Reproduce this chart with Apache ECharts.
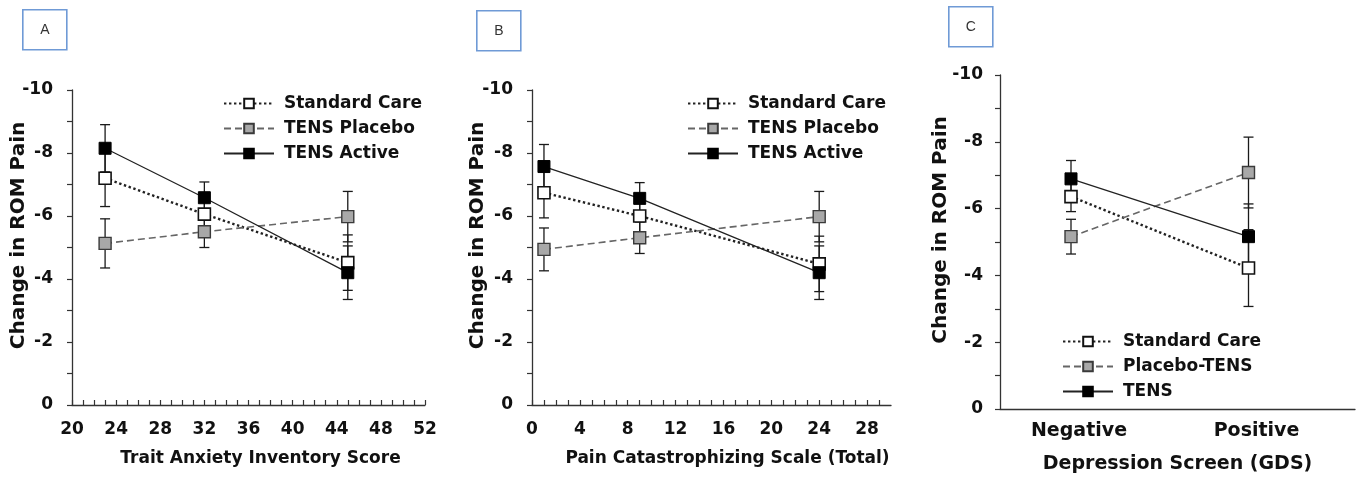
<!DOCTYPE html>
<html>
<head>
<meta charset="utf-8">
<title>Change in ROM Pain by covariate</title>
<script src="https://cdn.jsdelivr.net/npm/echarts@6/dist/echarts.min.js"></script>
<style>
  html, body { margin: 0; padding: 0; background: #fff; }
  #chart { width: 1360px; height: 485px; }
</style>
</head>
<body>
<div id="chart"></div>
<script>
// Panel A: Trait Anxiety Inventory score
const anxietyScore = [23, 32, 45];
const anxietyStandard = [-7.2, -6.06, -4.52];
const anxietyStandardErr = [0.9, 0.5, 0.88];
const anxietyPlacebo = [-5.13, -5.5, -5.98];
const anxietyPlaceboErr = [0.78, 0.5, 0.8];
const anxietyActive = [-8.15, -6.58, -4.2];
const anxietyActiveErr = [0.75, 0.5, 0.85];

// Panel B: Pain Catastrophizing Scale total
const pcsScore = [1, 9, 24];
const pcsStandard = [-6.74, -6.0, -4.48];
const pcsStandardErr = [0.8, 0.5, 0.88];
const pcsPlacebo = [-4.94, -5.31, -5.98];
const pcsPlaceboErr = [0.68, 0.5, 0.8];
const pcsActive = [-7.57, -6.56, -4.2];
const pcsActiveErr = [0.7, 0.5, 0.85];

// Panel C: depression screen (GDS) result
const gdsGroups = ['Negative', 'Positive'];
const gdsStandard = [-6.36, -4.22];
const gdsStandardErr = [0.45, 1.15];
const gdsPlacebo = [-5.16, -7.08];
const gdsPlaceboErr = [0.52, 1.06];
const gdsTens = [-6.89, -5.16];
const gdsTensErr = [0.55, 0.98];

const namesAB = ['Standard Care', 'TENS Placebo', 'TENS Active'];
const namesC = ['Standard Care', 'Placebo-TENS', 'TENS'];

const FONT = 'DejaVu Sans';
const INK = '#111';
const AXIS = '#333';

const styles = {
  standard: {
    lineStyle: { color: '#222', width: 2.4, type: [2.4, 2.6] },
    itemStyle: { color: '#fff', borderColor: '#111', borderWidth: 1.6 }
  },
  placebo: {
    lineStyle: { color: '#666', width: 1.6, type: [7, 4] },
    itemStyle: { color: '#a8a8a8', borderColor: '#3a3a3a', borderWidth: 1.4 }
  },
  active: {
    lineStyle: { color: '#222', width: 1.3, type: 'solid' },
    itemStyle: { color: '#000', borderColor: '#000', borderWidth: 1 }
  }
};

function pairs(xs, ys) { return ys.map((y, i) => [xs[i], y]); }
function triples(xs, ys, es) { return ys.map((y, i) => [xs[i], y, es[i]]); }

function lineSeries(name, idx, xs, ys, style) {
  return {
    type: 'line', name: name,
    xAxisIndex: idx, yAxisIndex: idx,
    data: pairs(xs, ys),
    symbol: 'rect', symbolSize: 12,
    lineStyle: style.lineStyle,
    itemStyle: style.itemStyle,
    z: 3,
    animation: false
  };
}

// vertical error bar with caps at mean ± err
function errorSeries(name, idx, xs, ys, es) {
  return {
    type: 'custom', name: name + ' error',
    xAxisIndex: idx, yAxisIndex: idx,
    data: triples(xs, ys, es),
    z: 2,
    animation: false,
    silent: true,
    renderItem: function (params, api) {
      const x = api.value(0), y = api.value(1), e = api.value(2);
      const hi = api.coord([x, y - e]);
      const lo = api.coord([x, y + e]);
      const cap = 5;
      const st = { stroke: '#1a1a1a', lineWidth: 1.3 };
      return {
        type: 'group',
        children: [
          { type: 'line', shape: { x1: hi[0], y1: hi[1], x2: lo[0], y2: lo[1] }, style: st },
          { type: 'line', shape: { x1: hi[0] - cap, y1: hi[1], x2: hi[0] + cap, y2: hi[1] }, style: st },
          { type: 'line', shape: { x1: lo[0] - cap, y1: lo[1], x2: lo[0] + cap, y2: lo[1] }, style: st }
        ]
      };
    }
  };
}

function yAxisDef(idx, gap, labelMargin) {
  return {
    type: 'value', gridIndex: idx,
    min: -10, max: 0, interval: 1, inverse: true,
    name: 'Change in ROM Pain',
    nameLocation: 'middle', nameRotate: 90, nameGap: gap,
    nameMoveOverlap: false,
    nameTextStyle: { fontFamily: FONT, fontWeight: 'bold', fontSize: 20, color: INK, padding: [0, 0, 0, 24] },
    axisLine: { show: true, onZero: false, lineStyle: { color: AXIS, width: 1.3 } },
    axisTick: { show: true, inside: false, length: 5, lineStyle: { color: AXIS, width: 1.2 } },
    axisLabel: {
      margin: labelMargin, fontFamily: FONT, fontWeight: 'bold', fontSize: 17, color: INK,
      formatter: v => (Math.round(v) % 2 === 0 ? String(Math.round(v)) : '')
    },
    splitLine: { show: false }
  };
}

function xValueAxis(idx, min, max, name, namePad) {
  return {
    type: 'value', gridIndex: idx,
    min: min, max: max, interval: 1,
    name: name, nameLocation: 'middle', nameGap: 45,
    nameTextStyle: { fontFamily: FONT, fontWeight: 'bold', fontSize: 17, color: INK, padding: namePad },
    axisLine: { show: true, onZero: false, lineStyle: { color: AXIS, width: 1.3 } },
    axisTick: { show: true, inside: true, length: 5, lineStyle: { color: AXIS, width: 1.2 } },
    axisLabel: {
      margin: 16, fontFamily: FONT, fontWeight: 'bold', fontSize: 17, color: INK,
      showMaxLabel: max % 4 === 0,
      formatter: v => (Math.round(v) % 4 === 0 ? String(Math.round(v)) : '')
    },
    splitLine: { show: false }
  };
}

function legendDef(left, top, names) {
  return {
    orient: 'vertical', left: left, top: top,
    data: names,
    itemWidth: 50, itemHeight: 12, itemGap: 8,
    selectedMode: false,
    textStyle: { fontFamily: FONT, fontWeight: 'bold', fontSize: 17, color: INK, padding: [0, 0, 0, 5] }
  };
}

function panelTag(letter, x, y) {
  return {
    type: 'group', left: x, top: y,
    children: [
      { type: 'rect', shape: { x: 0, y: 0, width: 44, height: 40 },
        style: { fill: '#fff', stroke: '#6f9ad6', lineWidth: 1.6 } },
      { type: 'text', x: 22, y: 20,
        style: { text: letter, fontFamily: 'Liberation Sans', fontSize: 14, fill: '#333',
                 textAlign: 'center', textVerticalAlign: 'middle' } }
    ]
  };
}

const gdsIndex = gdsGroups.map((g, i) => i);

const option = {
  backgroundColor: '#fff',
  animation: false,
  grid: [
    { left: 72, top: 90, width: 353, height: 315 },
    { left: 532, top: 90, width: 359, height: 315 },
    { left: 1000, top: 75, width: 355, height: 334 }
  ],
  xAxis: [
    xValueAxis(0, 20, 52, 'Trait Anxiety Inventory Score', [0, 0, 0, 24]),
    xValueAxis(1, 0, 30, 'Pain Catastrophizing Scale (Total)', [0, 0, 0, 32]),
    {
      type: 'value', gridIndex: 2,
      min: -0.4, max: 1.6, interval: 0.2,
      name: 'Depression Screen (GDS)', nameLocation: 'middle', nameGap: 46,
      nameTextStyle: { fontFamily: FONT, fontWeight: 'bold', fontSize: 19, color: INK },
      axisLine: { show: true, onZero: false, lineStyle: { color: AXIS, width: 1.3 } },
      axisTick: { show: false },
      axisLabel: {
        margin: 13, fontFamily: FONT, fontWeight: 'bold', fontSize: 19, color: INK,
        padding: [0, 0, 0, 16],
        formatter: v => {
          const r = Math.round(v);
          return Math.abs(v - r) < 1e-6 && gdsGroups[r] !== undefined ? gdsGroups[r] : '';
        }
      },
      splitLine: { show: false }
    }
  ],
  yAxis: [yAxisDef(0, 43, 19), yAxisDef(1, 44, 19), yAxisDef(2, 49, 17)],
  legend: [
    legendDef(218, 90, namesAB),
    legendDef(682, 90, namesAB),
    legendDef(1057, 328, namesC)
  ],
  graphic: [panelTag('A', 22, 9), panelTag('B', 476, 10), panelTag('C', 948, 6)],
  series: [
    lineSeries(namesAB[0], 0, anxietyScore, anxietyStandard, styles.standard),
    lineSeries(namesAB[1], 0, anxietyScore, anxietyPlacebo, styles.placebo),
    lineSeries(namesAB[2], 0, anxietyScore, anxietyActive, styles.active),
    errorSeries(namesAB[0], 0, anxietyScore, anxietyStandard, anxietyStandardErr),
    errorSeries(namesAB[1], 0, anxietyScore, anxietyPlacebo, anxietyPlaceboErr),
    errorSeries(namesAB[2], 0, anxietyScore, anxietyActive, anxietyActiveErr),

    lineSeries(namesAB[0], 1, pcsScore, pcsStandard, styles.standard),
    lineSeries(namesAB[1], 1, pcsScore, pcsPlacebo, styles.placebo),
    lineSeries(namesAB[2], 1, pcsScore, pcsActive, styles.active),
    errorSeries(namesAB[0], 1, pcsScore, pcsStandard, pcsStandardErr),
    errorSeries(namesAB[1], 1, pcsScore, pcsPlacebo, pcsPlaceboErr),
    errorSeries(namesAB[2], 1, pcsScore, pcsActive, pcsActiveErr),

    lineSeries(namesC[0], 2, gdsIndex, gdsStandard, styles.standard),
    lineSeries(namesC[1], 2, gdsIndex, gdsPlacebo, styles.placebo),
    lineSeries(namesC[2], 2, gdsIndex, gdsTens, styles.active),
    errorSeries(namesC[0], 2, gdsIndex, gdsStandard, gdsStandardErr),
    errorSeries(namesC[1], 2, gdsIndex, gdsPlacebo, gdsPlaceboErr),
    errorSeries(namesC[2], 2, gdsIndex, gdsTens, gdsTensErr)
  ]
};

const chart = echarts.init(document.getElementById('chart'), null, { renderer: 'canvas' });
chart.setOption(option);
</script>
</body>
</html>
